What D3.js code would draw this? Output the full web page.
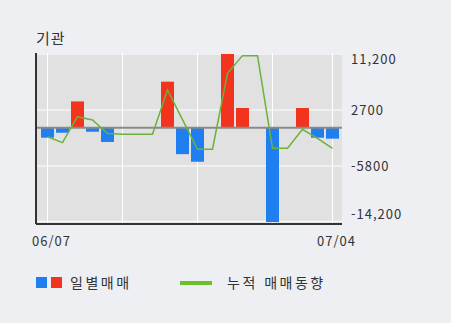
<!DOCTYPE html>
<html lang="ko">
<head>
  <meta charset="UTF-8">
  <title>기관</title>
  <script src="https://d3js.org/d3.v7.min.js"></script>
  <style>
    body {
      margin: 0;
      background: #eeeff3;
      overflow: hidden;
    }
    svg { display: block; }
    text {
      font-family: "Noto Sans CJK KR", "Noto Sans", sans-serif;
      fill: #333;
    }
  </style>
</head>
<body>
<svg width="451" height="323"></svg>

<script>
// 거래일
const dates = ['06/07', '06/08', '06/09', '06/12', '06/13', '06/14', '06/15', '06/16',
  '06/19', '06/20', '06/21', '06/22', '06/23', '06/26', '06/27', '06/28', '06/29',
  '06/30', '07/03', '07/04'];

// 일별매매 (기관)
const daily = [-1500, -750, 4000, -600, -2150, 0, 0, 0, 7000, -4000,
  -5150, 0, 11200, 3000, 0, -14300, 0, 3000, -1500, -1650];

// 누적 매매동향
const cumulative = [-1350, -2260, 1690, 1180, -870, -990, -990, -990, 5740, 1230,
  -3260, -3260, 8270, 10950, 10950, -3110, -3110, -230, -1590, -3110];

const yTicks = [11200, 2700, -5800, -14200];
const xGridDates = ['06/07', '06/14', '06/21', '06/28', '07/04'];
const xLabels = ['06/07', '07/04'];

const plot = { left: 36, right: 342, top: 53, bottom: 224 };

const svg = d3.select('svg');

const x = d3.scalePoint()
  .domain(dates)
  .range([47.5, 332.5]);

const y = d3.scaleLinear()
  .domain([-14450, 11350])
  .range([223, plot.top]);

// 배경
svg.append('rect')
  .attr('x', plot.left)
  .attr('y', plot.top)
  .attr('width', plot.right - plot.left)
  .attr('height', plot.bottom - plot.top)
  .attr('fill', '#e1e1e1');

// 그리드
svg.append('g')
  .selectAll('line')
  .data(yTicks)
  .enter().append('line')
  .attr('x1', plot.left)
  .attr('x2', plot.right)
  .attr('y1', d => y(d))
  .attr('y2', d => y(d))
  .attr('stroke', '#fff')
  .attr('stroke-width', 1);

svg.append('g')
  .selectAll('line')
  .data(xGridDates)
  .enter().append('line')
  .attr('x1', d => x(d))
  .attr('x2', d => x(d))
  .attr('y1', plot.top)
  .attr('y2', plot.bottom)
  .attr('stroke', '#fff')
  .attr('stroke-width', 1);

// 막대
svg.append('g')
  .selectAll('rect')
  .data(dates.map((d, i) => ({ date: d, v: daily[i] })).filter(d => d.v !== 0))
  .enter().append('rect')
  .attr('x', d => x(d.date) - 6.5)
  .attr('width', 13)
  .attr('y', d => y(Math.max(0, d.v)))
  .attr('height', d => Math.abs(y(d.v) - y(0)))
  .attr('fill', d => d.v > 0 ? '#f2341f' : '#1f7ef0');

// 기준선
svg.append('line')
  .attr('x1', plot.left)
  .attr('x2', plot.right)
  .attr('y1', y(0))
  .attr('y2', y(0))
  .attr('stroke', '#8a8a8a')
  .attr('stroke-width', 2);

// 누적 라인
const line = d3.line()
  .x((d, i) => x(dates[i]))
  .y(d => y(d));

svg.append('path')
  .datum(cumulative)
  .attr('d', line)
  .attr('fill', 'none')
  .attr('stroke', '#6bb23a')
  .attr('stroke-width', 1.5);

// 축선
svg.append('line')
  .attr('x1', plot.left)
  .attr('x2', plot.left)
  .attr('y1', plot.top)
  .attr('y2', plot.bottom)
  .attr('stroke', '#333')
  .attr('stroke-width', 2);

svg.append('line')
  .attr('x1', plot.left)
  .attr('x2', plot.right)
  .attr('y1', plot.bottom)
  .attr('y2', plot.bottom)
  .attr('stroke', '#333')
  .attr('stroke-width', 2);

// y 라벨 (오른쪽)
svg.append('g')
  .selectAll('text')
  .data(yTicks)
  .enter().append('text')
  .attr('x', 351)
  .attr('y', d => Math.min(214, Math.max(59, y(d))))
  .attr('dy', '0.35em')
  .style('font-size', '13px')
  .style('letter-spacing', '1px')
  .text(d => Math.abs(d) >= 10000 ? d3.format(',')(d).replace('−', '-') : String(d));

// x 라벨
svg.append('g')
  .selectAll('text')
  .data(xLabels)
  .enter().append('text')
  .attr('x', d => x(d) + 4)
  .attr('y', 246)
  .attr('text-anchor', 'middle')
  .style('font-size', '13px')
  .style('letter-spacing', '1px')
  .text(d => d);

// 제목
svg.append('text')
  .attr('x', 36)
  .attr('y', 44)
  .style('font-size', '15px')
  .style('letter-spacing', '1px')
  .text('기관');

// 범례
const legend = svg.append('g');
legend.append('rect').attr('x', 36).attr('y', 277).attr('width', 11).attr('height', 11).attr('fill', '#1f7ef0');
legend.append('rect').attr('x', 51).attr('y', 277).attr('width', 11).attr('height', 11).attr('fill', '#f2341f');
legend.append('text').attr('x', 70).attr('y', 283).attr('dy', '0.35em')
  .style('font-size', '14px').style('letter-spacing', '2.5px').text('일별매매');
legend.append('line').attr('x1', 180).attr('x2', 212).attr('y1', 283).attr('y2', 283)
  .attr('stroke', '#6bbf2a').attr('stroke-width', 4);
legend.append('text').attr('x', 227).attr('y', 283).attr('dy', '0.35em')
  .style('font-size', '14px').style('letter-spacing', '2.5px').text('누적 매매동향');
</script>
</body>
</html>
